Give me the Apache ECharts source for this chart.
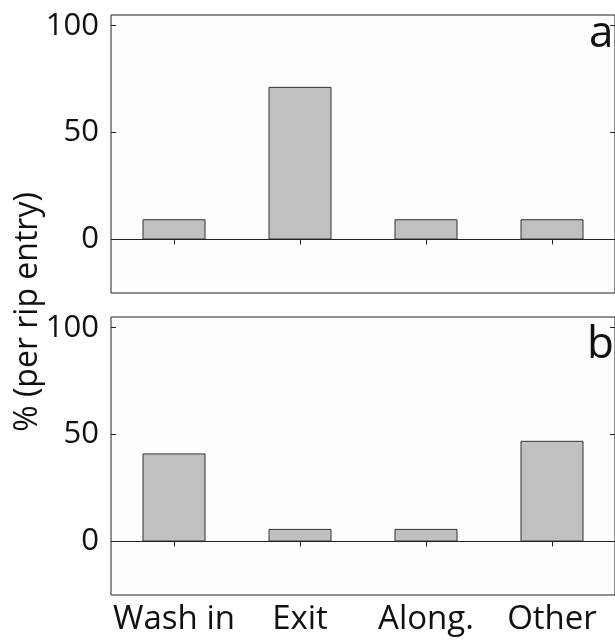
<!DOCTYPE html>
<html><head><meta charset="utf-8">
<script src="https://cdn.jsdelivr.net/npm/echarts@6/dist/echarts.min.js"></script>
<style>html,body{margin:0;padding:0;background:#fff;}#c{width:615px;height:640px;}</style>
</head><body><div id="c"></div>
<script>
const categories = ['Wash in', 'Exit', 'Along.', 'Other'];
const valuesA = [9.5, 71.4, 9.5, 9.5];
const valuesB = [41.2, 5.9, 5.9, 47.1];
const yTicks = [0, 50, 100];
const panelLabels = ['a', 'b'];
const yTitle = '% (per rip entry)';

const FONT = '"Open Sans", "Noto Sans", sans-serif';
const INK = '#222';
const chart = echarts.init(document.getElementById('c'));

const grids = [
  {left: 111, top: 15, width: 505, height: 278},
  {left: 111, top: 317, width: 505, height: 278}
];
const xAxes = [], yAxes = [], series = [];
[valuesA, valuesB].forEach((vals, i) => {
  const common = {type: 'category', data: categories, gridIndex: i, boundaryGap: true,
    axisLine: {show: false}, splitLine: {show: false},
    axisTick: {show: true, inside: true, alignWithLabel: true, length: 5, lineStyle: {color: INK}}};
  xAxes.push(Object.assign({}, common, {position: 'bottom',
    axisLabel: {show: i === 1, interval: 0, color: '#111', fontSize: 33, fontFamily: FONT, margin: 8}}));
  xAxes.push(Object.assign({}, common, {position: 'top', axisLabel: {show: false}}));
  const ycommon = {type: 'value', gridIndex: i, min: -25, max: 105,
    axisLine: {show: false}, splitLine: {show: false},
    axisTick: {show: true, inside: true, length: 5, customValues: yTicks, lineStyle: {color: INK}}};
  yAxes.push(Object.assign({}, ycommon, {position: 'left',
    axisLabel: {show: true, customValues: yTicks, color: '#111', fontSize: 31, fontFamily: FONT, margin: 12}}));
  yAxes.push(Object.assign({}, ycommon, {position: 'right', axisLabel: {show: false}}));
  series.push({type: 'bar', xAxisIndex: i * 2, yAxisIndex: i * 2, data: vals, barWidth: '50%',
    itemStyle: {color: '#c0c0c0', borderColor: '#333', borderWidth: 1},
    silent: true, animation: false,
    markLine: {silent: true, symbol: 'none', label: {show: false},
      lineStyle: {color: INK, type: 'solid', width: 1}, data: [{yAxis: 0}]}});
});

chart.setOption({
  backgroundColor: '#fff',
  animation: false,
  grid: grids.map(g => Object.assign({show: true, borderColor: INK, borderWidth: 1, backgroundColor: '#fdfdfd'}, g)),
  xAxis: xAxes,
  yAxis: yAxes,
  series: series,
  graphic: [
    {type: 'text', x: 28, y: 312, rotation: Math.PI / 2,
      style: {text: yTitle, fontSize: 32, fontFamily: FONT, fill: '#111', align: 'center', verticalAlign: 'middle'}},
    {type: 'text', x: 589, y: 34, style: {text: panelLabels[0], fontSize: 44, fontFamily: FONT, fill: '#111', verticalAlign: 'middle'}},
    {type: 'text', x: 587, y: 345, style: {text: panelLabels[1], fontSize: 44, fontFamily: FONT, fill: '#111', verticalAlign: 'middle'}}
  ]
});
</script></body></html>
